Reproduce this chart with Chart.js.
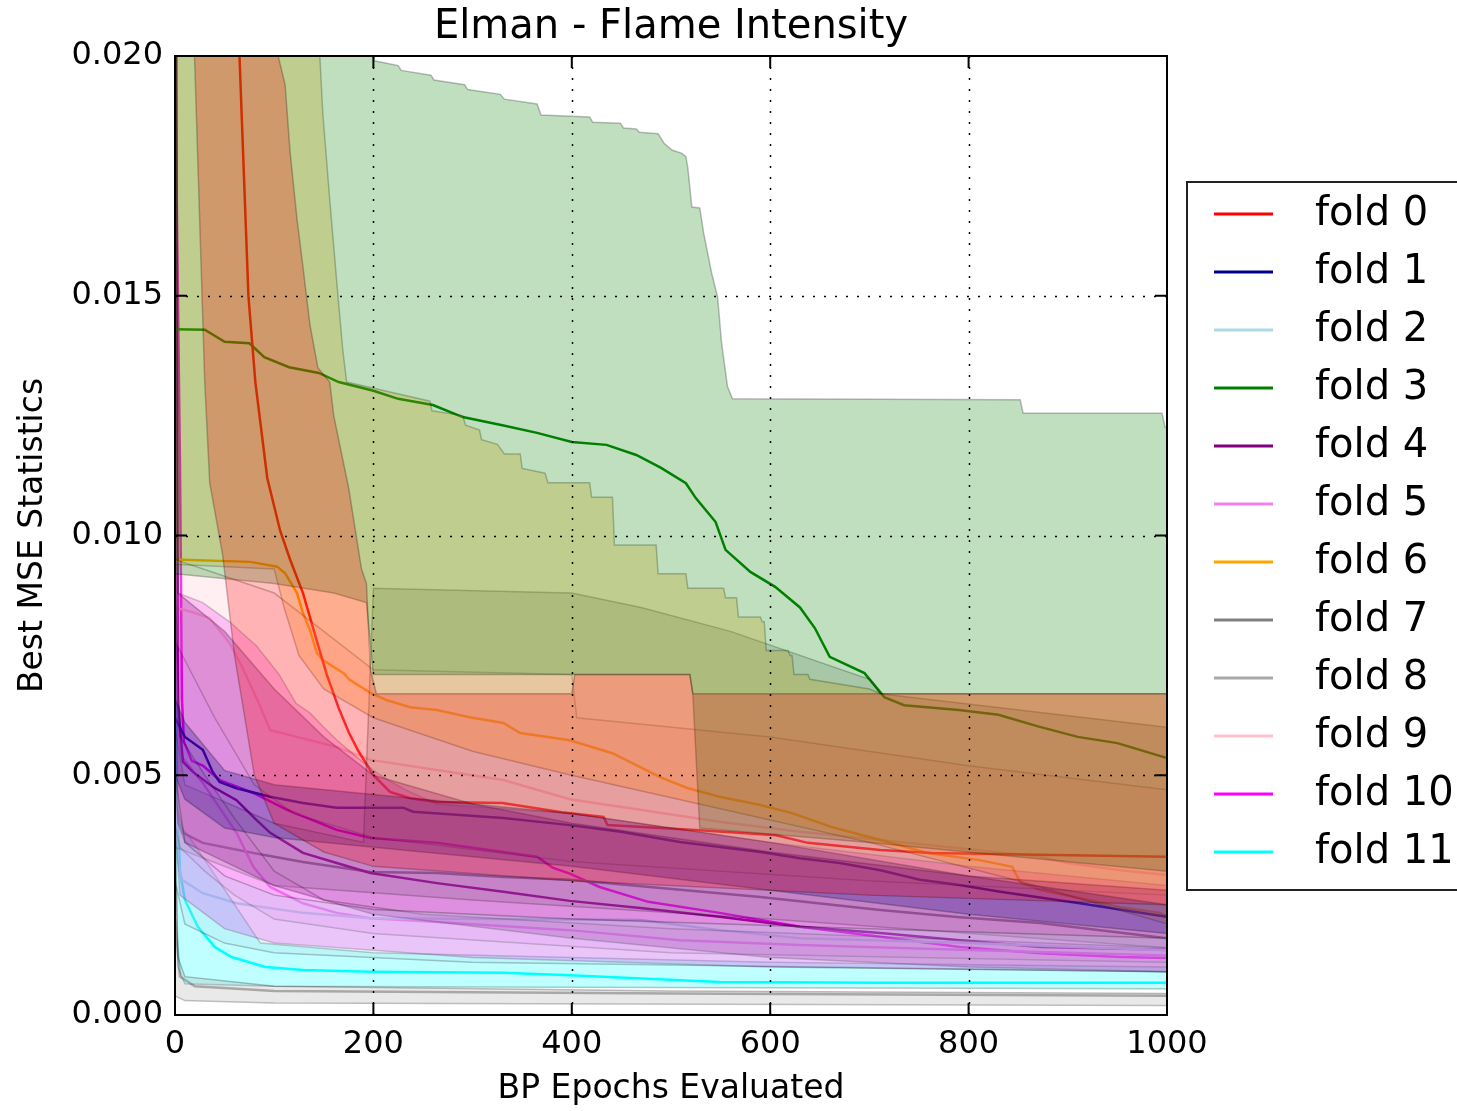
<!DOCTYPE html>
<html>
<head>
<meta charset="utf-8">
<script src="https://cdn.jsdelivr.net/npm/chart.js@4.4.0/dist/chart.umd.min.js"></script>
<style>
  html, body { margin: 0; padding: 0; background: #fff; }
  #wrap { width: 1457px; height: 1111px; }
</style>
</head>
<body>
<div id="wrap"><canvas id="chart" width="1457" height="1111"></canvas></div>
<script>
// x ticks and y ticks
const xTickValues = [0, 200, 400, 600, 800, 1000];
const yTickValues = [0, 0.005, 0.01, 0.015, 0.02];

const foldNames = ["fold 0", "fold 1", "fold 2", "fold 3", "fold 4", "fold 5",
                   "fold 6", "fold 7", "fold 8", "fold 9", "fold 10", "fold 11"];
const foldColors = ["#ff0000", "#00008b", "#add8e6", "#008000", "#800080", "#ee82ee",
                    "#ffa500", "#808080", "#a9a9a9", "#ffc0cb", "#ff00ff", "#00ffff"];

// [epoch, mse] -- mean curve per fold
const mean0 = [[0,0.06],[40,0.03],[58,0.022],[65,0.0200],[74,0.0150],[81,0.0132],[93,0.0112],[106,0.0101],[116,0.0095],[129,0.0088],[143,0.0078],[153,0.0071],[165,0.0064],[175,0.0059],[185,0.0055],[200,0.0050],[217,0.00465],[237,0.00452],[264,0.00444],[330,0.00442],[390,0.00423],[432,0.00413],[436,0.00396],[525,0.00386],[606,0.00375],[638,0.00359],[711,0.00344],[763,0.00338],[870,0.00334],[1000,0.0033]];
const mean1 = [[0,0.0062],[10,0.0058],[28,0.00553],[38,0.00507],[45,0.00486],[62,0.00473],[96,0.00455],[129,0.00442],[163,0.00432],[230,0.00432],[240,0.00424],[331,0.00411],[398,0.00396],[449,0.00382],[509,0.00361],[590,0.0034],[630,0.00327],[670,0.00317],[711,0.00302],[751,0.00282],[791,0.00271],[832,0.00257],[912,0.00233],[993,0.00207],[1000,0.00205]];
const mean2 = [[0,0.0045],[3,0.0032],[7,0.00282],[28,0.00254],[62,0.00233],[129,0.00213],[197,0.00202],[469,0.00198],[549,0.00177],[630,0.0016],[800,0.0015],[1000,0.00135]];
const mean3 = [[0,0.0143],[30,0.01429],[50,0.01404],[75,0.01401],[90,0.01372],[115,0.01351],[145,0.01339],[165,0.0132],[200,0.01302],[225,0.01285],[260,0.01272],[290,0.01247],[330,0.0123],[365,0.01214],[400,0.01195],[435,0.01189],[465,0.01168],[490,0.01141],[515,0.01109],[525,0.01078],[545,0.01028],[555,0.0097],[580,0.00924],[605,0.00893],[630,0.0085],[645,0.00807],[660,0.00747],[695,0.00713],[715,0.00663],[735,0.00646],[790,0.00636],[830,0.00626],[870,0.00602],[910,0.0058],[950,0.00567],[1000,0.00536]];
const mean4 = [[0,0.03],[3,0.0065],[8,0.00528],[18,0.00507],[38,0.00476],[62,0.00448],[82,0.00407],[96,0.0038],[129,0.00338],[163,0.00317],[197,0.00296],[264,0.00275],[331,0.00257],[398,0.00238],[469,0.00223],[549,0.00205],[630,0.00184],[711,0.00171],[791,0.00156],[872,0.00142],[1000,0.00136]];
const mean5 = [[0,0.009],[3,0.006],[7,0.00538],[28,0.00484],[62,0.0038],[79,0.00309],[96,0.00267],[129,0.00233],[163,0.00213],[197,0.00202],[264,0.00194],[398,0.00177],[509,0.00156],[630,0.00146],[791,0.00136],[1000,0.00124]];
const mean6 = [[0,0.0095],[76,0.00945],[103,0.00935],[111,0.00921],[123,0.0088],[129,0.00838],[136,0.00803],[143,0.00755],[149,0.0074],[170,0.00713],[176,0.00699],[197,0.00672],[213,0.00657],[237,0.00642],[264,0.00636],[297,0.00621],[331,0.00609],[348,0.00588],[398,0.00573],[441,0.00546],[489,0.00496],[517,0.00473],[549,0.00455],[590,0.00438],[622,0.00421],[662,0.00392],[711,0.00365],[759,0.00338],[811,0.00323],[844,0.00309],[852,0.00277],[872,0.00261],[912,0.00244],[953,0.00225],[993,0.00213],[1000,0.00205]];
const mean7 = [[0,0.0045],[8,0.0038],[28,0.00359],[79,0.00338],[129,0.00319],[197,0.00298],[264,0.00296],[331,0.00288],[398,0.00282],[509,0.00261],[590,0.00246],[711,0.00219],[791,0.00204],[872,0.00192],[1000,0.0016]];
const mean8 = [[0,0.002],[5,0.0008],[20,0.0006],[100,0.0005],[500,0.00045],[1000,0.0004]];
const mean9 = [[0,0.0085],[18,0.0084],[35,0.00828],[55,0.00776],[69,0.0072],[83,0.00657],[96,0.00594],[123,0.0058],[163,0.00559],[197,0.00532],[264,0.00511],[331,0.0049],[398,0.0045],[469,0.00428],[549,0.00403],[630,0.00382],[711,0.00365],[791,0.00348],[872,0.0033],[900,0.00317],[953,0.00302],[1000,0.00292]];
const mean10 = [[0,0.02],[5,0.0115],[7,0.0066],[9,0.0057],[17,0.0053],[28,0.0052],[45,0.0049],[79,0.00463],[113,0.00428],[163,0.00386],[197,0.00369],[264,0.00359],[331,0.0034],[365,0.0033],[381,0.00307],[398,0.00295],[428,0.00267],[477,0.00236],[549,0.00213],[630,0.00184],[711,0.00163],[791,0.00142],[872,0.00129],[953,0.00121],[1000,0.00119]];
const mean11 = [[0,0.008],[2,0.0045],[5,0.003],[10,0.0024],[23,0.00184],[40,0.00142],[57,0.00121],[91,0.001],[129,0.00094],[197,0.0009],[331,0.00088],[398,0.00083],[549,0.00069],[711,0.00067],[1000,0.00067]];

// band limits (best and worst run) per fold
const hi0 = [[0,0.03],[95,0.022],[104,0.02],[111,0.0194],[116,0.018],[123,0.0166],[129,0.0156],[136,0.0144],[144,0.0135],[156,0.0132],[160,0.0125],[175,0.011],[188,0.0093],[193,0.009],[197,0.0072],[203,0.0067],[400,0.0067],[403,0.0071],[519,0.0071],[522,0.0067],[1000,0.0067]];
const lo0 = [[0,0.03],[20,0.0198],[30,0.0132],[35,0.0111],[48,0.0096],[60,0.0075],[80,0.005],[100,0.004],[150,0.0034],[200,0.0031],[400,0.0028],[700,0.0025],[1000,0.0023]];
const hi1 = [[0,0.0066],[10,0.0061],[50,0.0051],[100,0.0048],[200,0.0046],[400,0.0042],[600,0.0036],[800,0.0029],[1000,0.0023]];
const lo1 = [[0,0.005],[10,0.0045],[50,0.0039],[100,0.0037],[200,0.0035],[400,0.0031],[600,0.0026],[800,0.0021],[1000,0.0017]];
const hi2 = [[0,0.005],[10,0.0036],[50,0.0029],[100,0.0025],[200,0.0022],[400,0.002],[700,0.0018],[1000,0.0016]];
const lo2 = [[0,0.0028],[10,0.0019],[50,0.0015],[100,0.0013],[300,0.0011],[1000,0.0009]];
const hi3 = [[0,0.024],[198,0.0205],[201,0.0199],[225,0.0198],[228,0.0197],[258,0.0196],[261,0.0195],[292,0.0194],[295,0.0193],[328,0.0192],[332,0.0191],[365,0.019],[369,0.01877],[418,0.01873],[421,0.01862],[449,0.0186],[452,0.0185],[465,0.01848],[468,0.01841],[487,0.01838],[493,0.01818],[501,0.01804],[511,0.01797],[515,0.0179],[517,0.01766],[521,0.01685],[529,0.01683],[533,0.0163],[541,0.01547],[547,0.01497],[551,0.01401],[557,0.0131],[562,0.01285],[852,0.01283],[855,0.01255],[995,0.01255],[998,0.01226],[1000,0.01226]];
const lo3 = [[0,0.0092],[100,0.009],[160,0.0088],[193,0.0086],[200,0.0071],[519,0.0071],[522,0.0067],[529,0.0039],[700,0.0036],[1000,0.003]];
const hi4 = [[0,0.03],[3,0.0088],[50,0.008],[100,0.0068],[150,0.0058],[200,0.005],[300,0.0044],[400,0.004],[600,0.0034],[800,0.0029],[1000,0.0026]];
const lo4 = [[0,0.005],[3,0.004],[10,0.0036],[50,0.0032],[100,0.0027],[200,0.0021],[400,0.0016],[600,0.0012],[800,0.001],[1000,0.0009]];
const hi5 = [[0,0.009],[5,0.0058],[30,0.005],[60,0.0041],[100,0.003],[150,0.0024],[250,0.0021],[500,0.0018],[1000,0.0014]];
const lo5 = [[0,0.004],[5,0.0035],[30,0.003],[60,0.0025],[100,0.002],[200,0.0017],[500,0.0013],[1000,0.0011]];
const hi6 = [[0,0.03],[140,0.0215],[146,0.02],[149,0.0188],[156,0.017],[163,0.0153],[169,0.0139],[173,0.0132],[257,0.0128],[259,0.0126],[290,0.0125],[293,0.0123],[307,0.0122],[309,0.012],[325,0.0119],[332,0.0117],[348,0.0117],[350,0.0114],[373,0.0113],[376,0.0111],[418,0.0111],[420,0.0108],[441,0.0108],[443,0.0098],[485,0.0098],[487,0.0092],[515,0.0092],[517,0.0089],[553,0.0089],[555,0.0087],[566,0.0087],[568,0.0083],[590,0.0083],[592,0.0082],[594,0.0082],[596,0.0076],[618,0.0076],[620,0.0075],[622,0.0075],[624,0.0071],[638,0.0071],[640,0.007],[700,0.0068],[711,0.0067],[1000,0.0067]];
const lo6 = [[0,0.0094],[100,0.0093],[110,0.0085],[125,0.0075],[150,0.0068],[200,0.0062],[300,0.0055],[400,0.005],[550,0.0043],[700,0.0036],[850,0.0028],[1000,0.0019]];
const hi7 = [[0,0.006],[10,0.0048],[100,0.004],[190,0.0036],[200,0.0089],[400,0.0088],[470,0.0085],[560,0.008],[700,0.007],[711,0.0067],[1000,0.006]];
const lo7 = [[0,0.0035],[100,0.0027],[300,0.0024],[600,0.002],[1000,0.0014]];
const hi8 = [[0,0.004],[3,0.0012],[10,0.0008],[100,0.0006],[500,0.0005],[1000,0.00045]];
const lo8 = [[0,0.0004],[10,0.0003],[100,0.00025],[1000,0.0002]];
const hi9 = [[0,0.0095],[100,0.0088],[150,0.008],[200,0.0072],[400,0.0071],[405,0.0062],[600,0.0058],[800,0.0052],[1000,0.0047]];
const lo9 = [[0,0.0078],[40,0.0062],[80,0.0048],[120,0.0042],[200,0.0037],[400,0.0032],[700,0.0028],[1000,0.0025]];
const hi10 = [[0,0.03],[3,0.0088],[28,0.0086],[55,0.0082],[82,0.0077],[105,0.0071],[122,0.0065],[136,0.0063],[150,0.006],[165,0.0057],[182,0.0054],[200,0.0051],[215,0.0049],[232,0.0047],[264,0.0044],[400,0.0042],[600,0.0036],[800,0.0031],[1000,0.0027]];
const lo10 = [[0,0.004],[5,0.0025],[50,0.0018],[100,0.0015],[300,0.0012],[600,0.001],[1000,0.0009]];
const hi11 = [[0,0.012],[3,0.004],[15,0.0037],[86,0.0015],[200,0.0013],[400,0.0012],[600,0.0011],[1000,0.001]];
const lo11 = [[0,0.004],[3,0.001],[10,0.00065],[100,0.0006],[400,0.00058],[1000,0.00055]];

const foldMeans = [mean0, mean1, mean2, mean3, mean4, mean5, mean6, mean7, mean8, mean9, mean10, mean11];
const foldHighs = [hi0, hi1, hi2, hi3, hi4, hi5, hi6, hi7, hi8, hi9, hi10, hi11];
const foldLows = [lo0, lo1, lo2, lo3, lo4, lo5, lo6, lo7, lo8, lo9, lo10, lo11];

function pts(arr) {
    return arr.map(p => ({ x: p[0], y: p[1] }));
}
function rgba(hex, a) {
    const n = parseInt(hex.slice(1), 16);
    return "rgba(" + (n >> 16) + "," + ((n >> 8) & 255) + "," + (n & 255) + "," + a + ")";
}

const edge = "rgba(0,0,0,0.25)";
const datasets = [];
foldNames.forEach((name, i) => {
    datasets.push({ label: name + " max", data: pts(foldHighs[i]), fill: "+1",
        backgroundColor: rgba(foldColors[i], 0.25), borderColor: edge, borderWidth: 1.5 });
    datasets.push({ label: name + " min", data: pts(foldLows[i]), fill: false,
        borderColor: edge, borderWidth: 1.5 });
});
foldNames.forEach((name, i) => {
    datasets.push({ label: name, data: pts(foldMeans[i]), fill: false,
        borderColor: foldColors[i], borderWidth: 2.5 });
});

// dotted grid, frame, inward ticks
const framePlugin = {
    id: "frame",
    afterDatasetsDraw(chart) {
        const { ctx, chartArea: a, scales: { x, y } } = chart;
        ctx.save();
        ctx.strokeStyle = "#000";
        ctx.lineWidth = 1.5;
        ctx.setLineDash([2, 9]);
        xTickValues.forEach(v => {
            const px = Math.round(x.getPixelForValue(v)) + 0.5;
            if (px <= a.left + 1 || px >= a.right - 1) return;
            ctx.beginPath(); ctx.moveTo(px, a.top); ctx.lineTo(px, a.bottom); ctx.stroke();
        });
        yTickValues.forEach(v => {
            const py = Math.round(y.getPixelForValue(v)) + 0.5;
            if (py <= a.top + 1 || py >= a.bottom - 1) return;
            ctx.beginPath(); ctx.moveTo(a.left, py); ctx.lineTo(a.right, py); ctx.stroke();
        });
        ctx.setLineDash([]);
        ctx.lineWidth = 2;
        xTickValues.forEach(v => {
            const px = x.getPixelForValue(v);
            ctx.beginPath();
            ctx.moveTo(px, a.bottom); ctx.lineTo(px, a.bottom - 12);
            ctx.moveTo(px, a.top); ctx.lineTo(px, a.top + 12);
            ctx.stroke();
        });
        yTickValues.forEach(v => {
            const py = y.getPixelForValue(v);
            ctx.beginPath();
            ctx.moveTo(a.left, py); ctx.lineTo(a.left + 12, py);
            ctx.moveTo(a.right, py); ctx.lineTo(a.right - 12, py);
            ctx.stroke();
        });
        ctx.strokeRect(a.left, a.top, a.right - a.left, a.bottom - a.top);
        ctx.restore();
    }
};

// boxed legend on the right, only mean lines
const legendPlugin = {
    id: "boxLegend",
    afterDraw(chart) {
        const ctx = chart.ctx;
        ctx.save();
        ctx.fillStyle = "#fff";
        ctx.fillRect(1187, 182, 300, 708);
        ctx.strokeStyle = "#222";
        ctx.lineWidth = 2;
        ctx.strokeRect(1187, 182, 300, 708);
        ctx.font = "40px 'DejaVu Sans'";
        ctx.textBaseline = "middle";
        ctx.fillStyle = "#000";
        foldNames.forEach((name, i) => {
            const yy = 214 + i * 58;
            ctx.strokeStyle = foldColors[i];
            ctx.lineWidth = 3;
            ctx.beginPath(); ctx.moveTo(1214, yy); ctx.lineTo(1273, yy); ctx.stroke();
            ctx.fillText(name, 1315, yy + 1);
        });
        ctx.restore();
    }
};

Chart.defaults.font.family = "'DejaVu Sans', sans-serif";
Chart.defaults.color = "#000";

new Chart(document.getElementById("chart"), {
    type: "line",
    data: { datasets: datasets },
    options: {
        responsive: false,
        animation: false,
        layout: { padding: { left: 0, right: 290, top: 0, bottom: 0 } },
        elements: { point: { radius: 0 }, line: { tension: 0 } },
        plugins: {
            legend: { display: false },
            tooltip: { enabled: false },
            title: {
                display: true, text: "Elman - Flame Intensity", fullSize: false,
                font: { size: 40, weight: "normal", lineHeight: 1.2 },
                padding: { top: 4, bottom: 4 }, color: "#000"
            }
        },
        scales: {
            x: {
                type: "linear", min: 0, max: 1000,
                afterFit: s => { s.height = 96; },
                grid: { display: false, drawTicks: false },
                border: { display: false },
                ticks: { stepSize: 200, font: { size: 32 }, padding: 10, maxRotation: 0, autoSkip: false,
                         callback: v => String(v) },
                title: { display: true, text: "BP Epochs Evaluated", font: { size: 33 }, padding: { top: 0, bottom: 2 } }
            },
            y: {
                min: 0, max: 0.02,
                afterFit: s => { s.width = 175; },
                grid: { display: false, drawTicks: false },
                border: { display: false },
                ticks: { stepSize: 0.005, font: { size: 32 }, padding: 12, callback: v => v.toFixed(3) },
                title: { display: true, text: "Best MSE Statistics", font: { size: 33 }, padding: { top: 14, bottom: 0 } }
            }
        }
    },
    plugins: [framePlugin, legendPlugin]
});
</script>
</body>
</html>
